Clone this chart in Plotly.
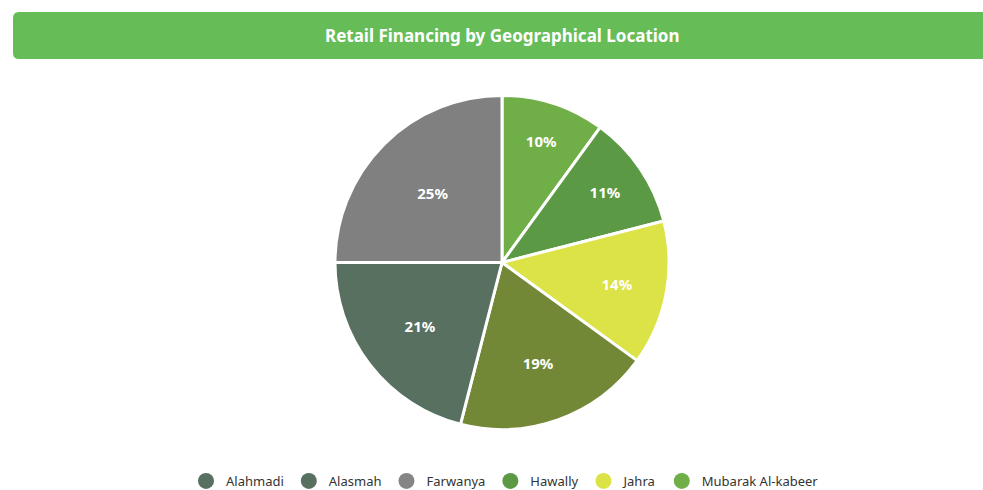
import plotly.graph_objects as go

labels = ["Alahmadi", "Alasmah", "Farwanya", "Hawally", "Jahra", "Mubarak Al-kabeer"]
values = [21, 19, 25, 11, 14, 10]
slice_colors = ["#577060", "#738837", "#808080", "#5b9945", "#dce346", "#70ae48"]
legend_colors = ["#577060", "#577060", "#858585", "#5b9945", "#dce346", "#70ae48"]
title_text = "Retail Financing by Geographical Location"

W, H = 983, 490
def px(x):
    return x / W
def py(y):
    return 1 - y / H

# pie order: ascending values, clockwise from 12 o'clock
order = sorted(range(len(values)), key=lambda i: values[i])

fig = go.Figure()

cx, cy, r = 502, 262.5, 167
fig.add_trace(go.Pie(
    labels=[labels[i] for i in order], values=[values[i] for i in order],
    marker=dict(colors=[slice_colors[i] for i in order], line=dict(color="white", width=3)),
    texttemplate="%{percent:.0%}",
    textposition="inside",
    insidetextorientation="horizontal",
    textfont=dict(family="Noto Sans", size=15, color="white", weight="bold"),
    sort=False, direction="clockwise", rotation=0,
    showlegend=False,
    hoverinfo="label+percent",
    domain=dict(x=[px(cx - r), px(cx + r)], y=[py(cy + r), py(cy - r)]),
))

for lab, col in zip(labels, legend_colors):
    fig.add_trace(go.Scatter(
        x=[None], y=[None], mode="markers", name=lab,
        marker=dict(symbol="circle", size=16, color=col),
        showlegend=True,
    ))

# rounded title bar
x0, x1, y0, y1, rr = 13, 1000, 12, 59, 6
path = (
    f"M {px(x0+rr)},{py(y0)} L {px(x1)},{py(y0)} L {px(x1)},{py(y1)} "
    f"L {px(x0+rr)},{py(y1)} Q {px(x0)},{py(y1)} {px(x0)},{py(y1-rr)} "
    f"L {px(x0)},{py(y0+rr)} Q {px(x0)},{py(y0)} {px(x0+rr)},{py(y0)} Z"
)
fig.add_shape(type="path", path=path, xref="paper", yref="paper",
              fillcolor="#66bd58", line=dict(width=0), layer="below")

fig.add_annotation(
    text=title_text, x=px(502), y=py(35.5), xref="paper", yref="paper",
    xanchor="center", yanchor="middle", showarrow=False,
    font=dict(family="Noto Sans", size=17, color="white", weight="bold"),
)

fig.update_layout(
    width=W, height=H,
    margin=dict(l=0, r=0, t=0, b=0, autoexpand=False),
    paper_bgcolor="white", plot_bgcolor="white",
    xaxis=dict(visible=False), yaxis=dict(visible=False),
    legend=dict(orientation="h", x=px(505), xanchor="center", y=py(481), yanchor="middle",
                font=dict(family="Noto Sans", size=13, color="#333333"),
                itemsizing="trace", tracegroupgap=0),
)

fig.write_html("out.html", config={"displayModeBar": False},
               post_script="document.body.style.margin='0';")
